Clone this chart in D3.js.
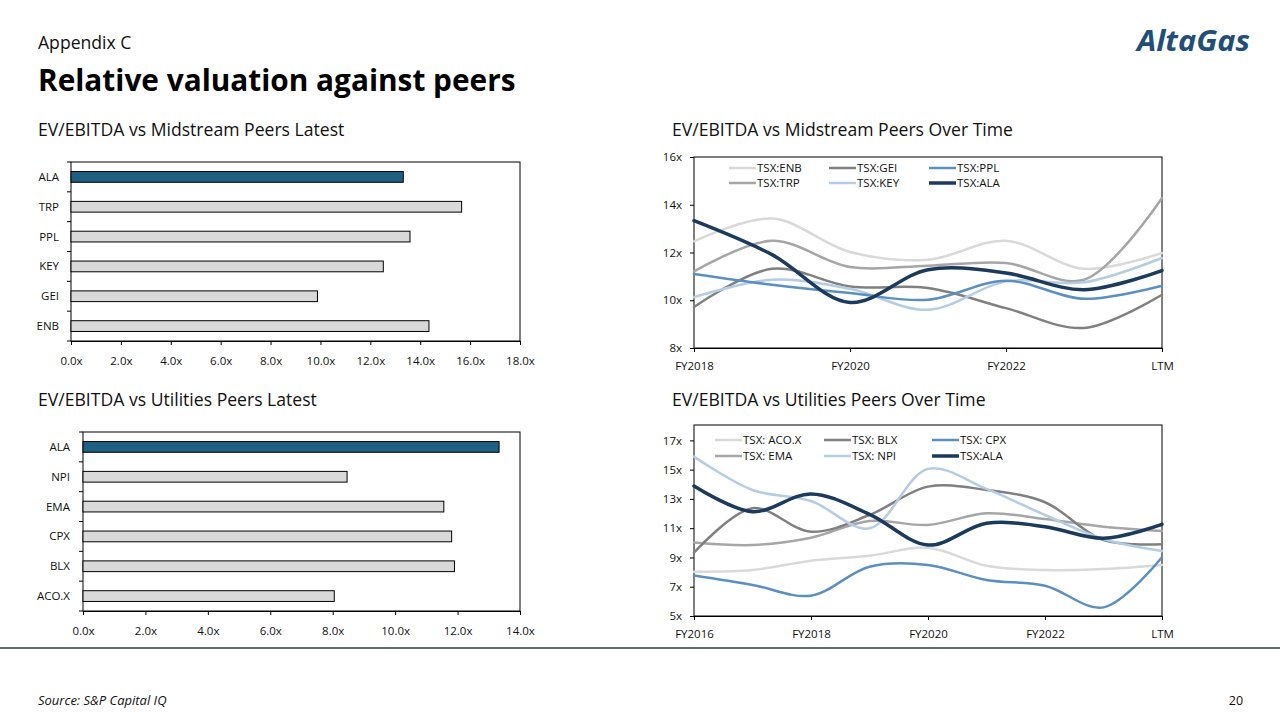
<html>
  <head>
    <meta charset="utf-8">
    <script type="text/javascript" src="https://d3js.org/d3.v7.min.js"></script>
    <style>
      body { margin: 0; background: #fff; }
      text { font-family: "Open Sans", "Noto Sans", sans-serif; }
    </style>
  </head>
  <body>
    <script>

        // ---- data ----
        // latest EV/EBITDA, listed bottom to top as in the slide
        var midPeers = ["ENB", "GEI", "KEY", "PPL", "TRP", "ALA"];
        var midLatest = [14.35, 9.88, 12.52, 13.59, 15.66, 13.32];
        var midLatestTicks = [0, 2, 4, 6, 8, 10, 12, 14, 16, 18];

        var utilPeers = ["ACO.X", "BLX", "CPX", "EMA", "NPI", "ALA"];
        var utilLatest = [8.05, 11.90, 11.81, 11.56, 8.46, 13.33];
        var utilLatestTicks = [0, 2, 4, 6, 8, 10, 12, 14];

        // over time - midstream
        var midYears = ["FY2018", "FY2019", "FY2020", "FY2021", "FY2022", "FY2023", "LTM"];
        var midYearTicks = ["FY2018", "FY2020", "FY2022", "LTM"];
        var midValueTicks = [8, 10, 12, 14, 16];
        var enbSeries = [12.47, 13.42, 12.02, 11.70, 12.49, 11.32, 11.98];
        var trpSeries = [11.21, 12.49, 11.39, 11.45, 11.56, 10.86, 14.28];
        var geiSeries = [9.72, 11.32, 10.58, 10.51, 9.67, 8.84, 10.23];
        var keySeries = [10.13, 10.86, 10.48, 9.60, 10.79, 10.75, 11.77];
        var pplSeries = [11.10, 10.65, 10.30, 10.02, 10.82, 10.06, 10.61];
        var alaMidSeries = [13.33, 11.91, 9.91, 11.28, 11.14, 10.44, 11.24];

        // over time - utilities
        var utilYears = ["FY2016", "FY2017", "FY2018", "FY2019", "FY2020", "FY2021", "FY2022", "FY2023", "LTM"];
        var utilYearTicks = ["FY2016", "FY2018", "FY2020", "FY2022", "LTM"];
        var utilValueTicks = [5, 7, 9, 11, 13, 15, 17];
        var acoSeries = [8.03, 8.14, 8.78, 9.12, 9.67, 8.44, 8.14, 8.21, 8.49];
        var emaSeries = [10.03, 9.85, 10.35, 11.49, 11.22, 12.02, 11.63, 11.10, 10.81];
        var blxSeries = [9.33, 12.36, 10.76, 11.90, 13.84, 13.61, 12.77, 10.19, 9.90];
        var npiSeries = [15.89, 13.61, 12.86, 10.99, 15.05, 13.68, 11.90, 10.26, 9.44];
        var cpxSeries = [7.76, 7.12, 6.39, 8.37, 8.49, 7.46, 7.07, 5.59, 9.01];
        var alaUtilSeries = [13.88, 12.13, 13.34, 11.95, 9.85, 11.33, 11.10, 10.31, 11.26];

        // colours
        var lightGrey = "#d9d9d9",
            midGrey = "#a6a6a6",
            darkGrey = "#808080",
            midBlue = "#5b8fc2",
            lightBlue = "#b4cce4",
            navy = "#1b3a5c",
            alaBar = "#1f5f82";

        var width = 1280,
            height = 720,
            tickFont = "11.5px";

        var svg = d3.select("body").append("svg")
                    .attr("width", width)
                    .attr("height", height);

        // header
        svg.append("text")
            .attr("x", 38).attr("y", 49)
            .style("font-size", "17.6px")
            .style("fill", "#111")
            .text("Appendix C");

        svg.append("text")
            .attr("x", 38).attr("y", 91)
            .style("font-size", "29.8px")
            .style("font-weight", "bold")
            .style("fill", "#000")
            .text("Relative valuation against peers");

        svg.append("text")
            .attr("x", 1137).attr("y", 51)
            .attr("textLength", 113)
            .attr("lengthAdjust", "spacingAndGlyphs")
            .style("font-size", "29px")
            .style("font-weight", "bold")
            .style("font-style", "italic")
            .style("fill", "#1f4e79")
            .text("AltaGas");

        // chart titles
        var titles = [
            [38, 136, "EV/EBITDA vs Midstream Peers Latest"],
            [672, 136, "EV/EBITDA vs Midstream Peers Over Time"],
            [38, 406, "EV/EBITDA vs Utilities Peers Latest"],
            [672, 406, "EV/EBITDA vs Utilities Peers Over Time"]
        ];
        titles.forEach(function(t) {
            svg.append("text")
                .attr("x", t[0]).attr("y", t[1])
                .style("font-size", "17.6px")
                .style("fill", "#111")
                .text(t[2]);
        });

        // footer
        svg.append("line")
            .attr("x1", 0).attr("x2", width)
            .attr("y1", 648).attr("y2", 648)
            .style("stroke", "#2b3b3b")
            .style("stroke-width", 1.5);

        svg.append("text")
            .attr("x", 38).attr("y", 705)
            .style("font-size", "13px")
            .style("font-style", "italic")
            .style("fill", "#111")
            .text("Source: S&P Capital IQ");

        svg.append("text")
            .attr("x", 1236).attr("y", 705)
            .attr("text-anchor", "middle")
            .style("font-size", "12.5px")
            .style("fill", "#111")
            .text("20");

        // horizontal bar chart, categories listed bottom to top
        function barChart(box, peers, values, ticks) {
            var g = svg.append("g");

            var x = d3.scaleLinear()
                .domain([0, ticks[ticks.length - 1]])
                .range([box.left, box.right]);

            var y = d3.scaleBand()
                .domain(peers.slice().reverse())
                .range([box.top, box.bottom])
                .paddingInner(0.64)
                .paddingOuter(0.32);

            // frame
            g.append("rect")
                .attr("x", box.left).attr("y", box.top)
                .attr("width", box.right - box.left)
                .attr("height", box.bottom - box.top)
                .style("fill", "none")
                .style("stroke", "#000")
                .style("stroke-width", 1);

            g.selectAll(".bar")
                .data(peers)
              .enter().append("rect")
                .attr("class", "bar")
                .attr("x", x(0))
                .attr("y", function(d) { return y(d); })
                .attr("width", function(d, i) { return x(values[i]) - x(0); })
                .attr("height", y.bandwidth())
                .style("fill", function(d) { return d === "ALA" ? alaBar : lightGrey; })
                .style("stroke", "#000")
                .style("stroke-width", 1);

            // category ticks sit between bands
            var bounds = d3.range(peers.length + 1).map(function(i) {
                return box.top + i * (box.bottom - box.top) / peers.length;
            });
            g.selectAll(".cat-tick")
                .data(bounds)
              .enter().append("line")
                .attr("x1", box.left - 4).attr("x2", box.left)
                .attr("y1", function(d) { return d; })
                .attr("y2", function(d) { return d; })
                .style("stroke", "#000");

            g.selectAll(".cat-label")
                .data(peers)
              .enter().append("text")
                .attr("x", box.labelRight)
                .attr("y", function(d) { return y(d) + y.bandwidth() / 2; })
                .attr("dy", "0.35em")
                .attr("text-anchor", "end")
                .style("font-size", tickFont)
                .style("fill", "#111")
                .text(function(d) { return d; });

            var xAxis = d3.axisBottom(x)
                .tickValues(ticks)
                .tickSize(4)
                .tickPadding(12)
                .tickFormat(function(d) { return d3.format(".1f")(d) + "x"; });

            var ax = g.append("g")
                .attr("transform", "translate(0," + box.bottom + ")")
                .call(xAxis);
            ax.select(".domain").style("stroke", "#000");
            ax.selectAll("text").style("font-size", tickFont).style("fill", "#111")
                .style("font-family", "'Open Sans', sans-serif");
        }

        // smoothed line chart with legend in two rows of three
        function lineChart(box, years, yearTicks, valueTicks, series, legendCols, legendRows) {
            var g = svg.append("g");

            var x = d3.scalePoint()
                .domain(years)
                .range([box.left, box.right]);

            var y = d3.scaleLinear()
                .domain(box.domain)
                .range([box.bottom, box.top]);

            g.append("rect")
                .attr("x", box.left).attr("y", box.top)
                .attr("width", box.right - box.left)
                .attr("height", box.bottom - box.top)
                .style("fill", "none")
                .style("stroke", "#000")
                .style("stroke-width", 1);

            var yAxis = d3.axisLeft(y)
                .tickValues(valueTicks)
                .tickSize(4)
                .tickPadding(8)
                .tickFormat(function(d) { return d + "x"; });

            var ay = g.append("g")
                .attr("transform", "translate(" + box.left + ",0)")
                .call(yAxis);
            ay.select(".domain").remove();

            var xAxis = d3.axisBottom(x)
                .tickValues(yearTicks)
                .tickSize(4)
                .tickPadding(10);

            var ax = g.append("g")
                .attr("transform", "translate(0," + box.bottom + ")")
                .call(xAxis);
            ax.select(".domain").style("stroke", "#000");

            g.selectAll(".tick text")
                .style("font-size", tickFont)
                .style("fill", "#111")
                .style("font-family", "'Open Sans', sans-serif");
            g.selectAll(".tick line").style("stroke", "#000");

            var line = d3.line()
                .x(function(d, i) { return x(years[i]); })
                .y(function(d) { return y(d); })
                .curve(d3.curveCatmullRom.alpha(0.5));

            g.selectAll(".series")
                .data(series)
              .enter().append("path")
                .attr("class", "series")
                .attr("d", function(s) { return line(s.values); })
                .style("fill", "none")
                .style("stroke", function(s) { return s.color; })
                .style("stroke-width", function(s) { return s.width; })
                .style("stroke-linecap", "round");

            // legend, order follows the series list
            var leg = g.selectAll(".legend")
                .data(series)
              .enter().append("g")
                .attr("class", "legend")
                .attr("transform", function(s) {
                    return "translate(" + legendCols[s.col] + "," + legendRows[s.row] + ")";
                });

            leg.append("line")
                .attr("x1", 0).attr("x2", 27)
                .style("stroke", function(s) { return s.color; })
                .style("stroke-width", function(s) { return s.width; });

            leg.append("text")
                .attr("x", 28)
                .attr("dy", "0.35em")
                .style("font-size", tickFont)
                .style("fill", "#111")
                .text(function(s) { return s.name; });
        }

        barChart({left: 71, right: 520, top: 162, bottom: 341, labelRight: 59},
                 midPeers, midLatest, midLatestTicks);

        barChart({left: 83, right: 520, top: 432, bottom: 611, labelRight: 70},
                 utilPeers, utilLatest, utilLatestTicks);

        lineChart({left: 694, right: 1162, top: 157, bottom: 348, domain: [8, 16]},
                  midYears, midYearTicks, midValueTicks,
                  [
                      {name: "TSX:ENB", values: enbSeries, color: lightGrey, width: 2.5, col: 0, row: 0},
                      {name: "TSX:TRP", values: trpSeries, color: midGrey, width: 2.5, col: 0, row: 1},
                      {name: "TSX:GEI", values: geiSeries, color: darkGrey, width: 2.5, col: 1, row: 0},
                      {name: "TSX:KEY", values: keySeries, color: lightBlue, width: 2.5, col: 1, row: 1},
                      {name: "TSX:PPL", values: pplSeries, color: midBlue, width: 2.5, col: 2, row: 0},
                      {name: "TSX:ALA", values: alaMidSeries, color: navy, width: 3.5, col: 2, row: 1}
                  ],
                  [729, 829, 929], [168, 183]);

        lineChart({left: 694, right: 1162, top: 425, bottom: 616, domain: [5, 18.05]},
                  utilYears, utilYearTicks, utilValueTicks,
                  [
                      {name: "TSX: ACO.X", values: acoSeries, color: lightGrey, width: 2.5, col: 0, row: 0},
                      {name: "TSX: EMA", values: emaSeries, color: midGrey, width: 2.5, col: 0, row: 1},
                      {name: "TSX: BLX", values: blxSeries, color: darkGrey, width: 2.5, col: 1, row: 0},
                      {name: "TSX: NPI", values: npiSeries, color: lightBlue, width: 2.5, col: 1, row: 1},
                      {name: "TSX: CPX", values: cpxSeries, color: midBlue, width: 2.5, col: 2, row: 0},
                      {name: "TSX:ALA", values: alaUtilSeries, color: navy, width: 3.5, col: 2, row: 1}
                  ],
                  [715, 824, 932], [440, 456]);

    </script>
  </body>
</html>
